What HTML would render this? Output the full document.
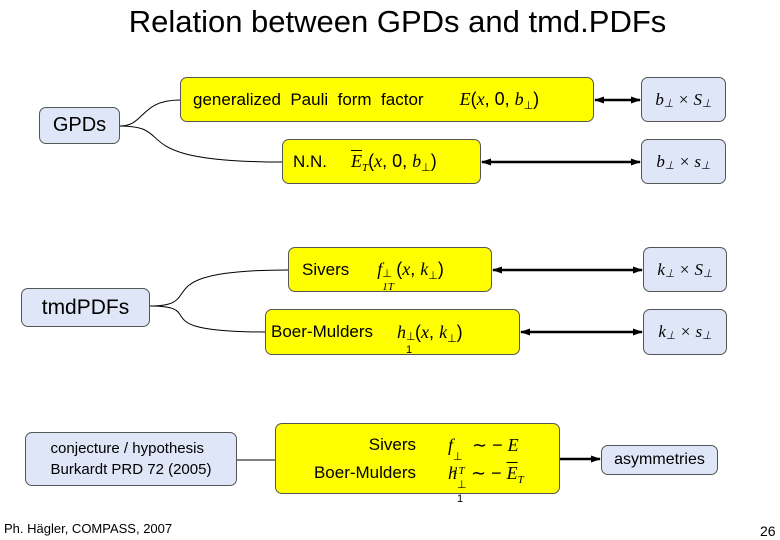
<!DOCTYPE html>
<html><head><meta charset="utf-8"><style>
body{margin:0;width:780px;height:540px;background:#fff;position:relative;overflow:hidden;font-family:"Liberation Sans",sans-serif}
.b{position:absolute;box-sizing:border-box;border:1px solid #555;border-radius:7px;display:flex;align-items:center}
.y{background:#ffff00}
.l{background:#dfe6f7;justify-content:center}
.m{font-family:"Liberation Serif",serif;font-style:italic}
.t{position:absolute}
sub,sup{font-size:11px;line-height:0;position:relative}
sub{vertical-align:baseline;top:4px}
sup{vertical-align:baseline;top:-7px}
.ss{display:inline-block;position:relative;width:14px}
.ss .u{position:absolute;left:0;top:-8px;font-size:11px;font-style:normal}
.ss .d{position:absolute;left:0;top:6px;font-size:11px}
</style></head><body>
<div class="t" style="left:0;width:795px;text-align:center;top:4px;font-size:31px">Relation between GPDs and tmd.PDFs</div>
<svg width="780" height="540" style="position:absolute;left:0;top:0">
<defs><marker id="a" markerUnits="userSpaceOnUse" markerWidth="10" markerHeight="10" refX="9" refY="5" orient="auto-start-reverse"><path d="M0,1.5 L10,5 L0,8.5z" fill="#000"/></marker></defs>
<g fill="none" stroke="#000" stroke-width="1">
<path d="M120,126 C145,126 140,100 180,100"/>
<path d="M120,126 C180,126 120,162 282,162"/>
<path d="M150,306 C210,306 140,270 288,270"/>
<path d="M150,306 C210,306 140,332 265,332"/>
<path d="M237,460 L275,460"/>
</g>
<g stroke="#000" stroke-width="2.5" marker-start="url(#a)" marker-end="url(#a)">
<line x1="595" y1="100" x2="640" y2="100"/>
<line x1="482" y1="162" x2="640" y2="162"/>
<line x1="493" y1="270" x2="642" y2="270"/>
<line x1="521" y1="332" x2="642" y2="332"/>
</g>
<line x1="560" y1="459" x2="600" y2="459" stroke="#000" stroke-width="2.5" marker-end="url(#a)"/>
</svg>
<div class="b l" style="left:39px;top:107px;width:81px;height:37px;font-size:20px">GPDs</div>
<div class="b l" style="left:21px;top:288px;width:129px;height:39px;font-size:21px">tmdPDFs</div>
<div class="b y" style="left:180px;top:77px;width:414px;height:45px;font-size:17px;padding-left:12px">generalized&nbsp; Pauli&nbsp; form&nbsp; factor<span class="m" style="margin-left:36px;font-size:18px">E</span><span style="font-size:18px">(<span class="m">x</span>, 0, <span class="m">b</span><sub>⊥</sub>)</span></div>
<div class="b y" style="left:282px;top:139px;width:199px;height:45px;font-size:17px;padding-left:10px">N.N.<span style="margin-left:24px;font-size:18px"><span class="m" style="text-decoration:overline">E</span><sub class="m">T</sub>(<span class="m">x</span>, 0, <span class="m">b</span><sub>⊥</sub>)</span></div>
<div class="b y" style="left:288px;top:247px;width:204px;height:45px;font-size:17px;padding-left:13px">Sivers<span style="margin-left:28px;font-size:18px"><span class="m">f</span><span class="ss m"><span class="u">⊥</span><span class="d">1T</span></span>(<span class="m">x</span>, <span class="m">k</span><sub>⊥</sub>)</span></div>
<div class="b y" style="left:265px;top:309px;width:255px;height:46px;font-size:17px;padding-left:5px">Boer-Mulders<span style="margin-left:24px;font-size:18px"><span class="m">h</span><span class="ss" style="width:9px"><span class="u">⊥</span><span class="d">1</span></span>(<span class="m">x</span>, <span class="m">k</span><sub>⊥</sub>)</span></div>
<div class="b l m" style="left:641px;top:77px;width:85px;height:45px;font-size:17px">b<sub>⊥</sub>&nbsp;×&nbsp;S<sub>⊥</sub></div>
<div class="b l m" style="left:641px;top:139px;width:85px;height:45px;font-size:17px">b<sub>⊥</sub>&nbsp;×&nbsp;s<sub>⊥</sub></div>
<div class="b l m" style="left:643px;top:247px;width:84px;height:45px;font-size:17px">k<sub>⊥</sub>&nbsp;×&nbsp;S<sub>⊥</sub></div>
<div class="b l m" style="left:643px;top:309px;width:84px;height:46px;font-size:17px">k<sub>⊥</sub>&nbsp;×&nbsp;s<sub>⊥</sub></div>
<div class="b l" style="left:25px;top:432px;width:212px;height:54px;font-size:15px;flex-direction:column;line-height:21px">conjecture / hypothesis<br>Burkardt PRD 72 (2005)</div>
<div class="b y" style="left:275px;top:423px;width:285px;height:71px;font-size:17px;flex-direction:column;align-items:stretch;justify-content:center;line-height:28px">
<div style="display:flex"><span style="width:140px;text-align:right">Sivers</span><span style="margin-left:32px;font-size:18px"><span class="m">f</span><span class="ss m"><span class="u">⊥</span><span class="d">1T</span></span> ∼ − <span class="m">E</span></span></div>
<div style="display:flex"><span style="width:140px;text-align:right">Boer-Mulders</span><span style="margin-left:32px;font-size:18px"><span class="m">h</span><span class="ss" style="width:9px"><span class="u">⊥</span><span class="d">1</span></span> ∼ − <span class="m" style="text-decoration:overline">E</span><sub class="m">T</sub></span></div>
</div>
<div class="b l" style="left:601px;top:445px;width:117px;height:30px;font-size:16px">asymmetries</div>
<div class="t" style="left:4px;top:521px;font-size:13px">Ph. Hägler, COMPASS, 2007</div>
<div class="t" style="left:760px;top:523px;font-size:14px">26</div>
</body></html>
